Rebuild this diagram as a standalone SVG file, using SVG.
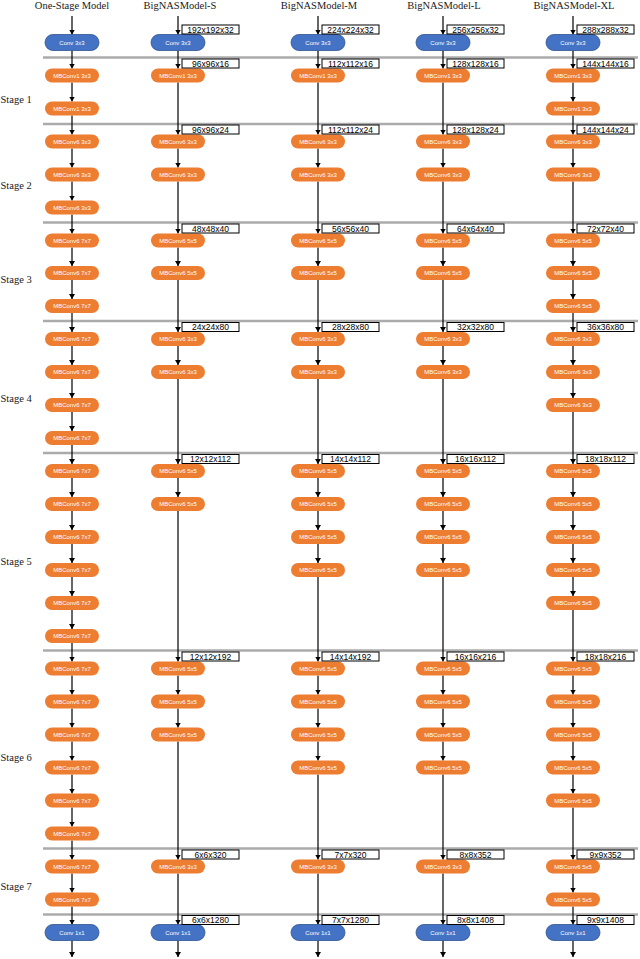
<svg xmlns="http://www.w3.org/2000/svg" width="640" height="959" viewBox="0 0 640 959">
<style>
.mb{fill:#ED7D31}
.cv{fill:#4472C4;stroke:#2F528F;stroke-width:0.8}
.nt{font-family:"Liberation Sans",Arial,sans-serif;font-size:6px;fill:#fff;text-anchor:middle}
.sep{stroke:#ABABAB;stroke-width:2.5}
.bx{fill:#fff;stroke:#000;stroke-width:1}
.bt{font-family:"Liberation Sans",Arial,sans-serif;font-size:8.5px;text-anchor:middle;fill:#000}
.hd{font-family:"Liberation Serif","Times New Roman",serif;font-size:10.5px;font-weight:normal;text-anchor:middle;fill:#1a1a1a}
.st{font-family:"Liberation Serif","Times New Roman",serif;font-size:10.5px;font-weight:normal;fill:#1a1a1a}
#connectors line{stroke:#000;stroke-width:1.2;marker-end:url(#ah)}
</style>
<defs>
<marker id="ah" markerUnits="userSpaceOnUse" markerWidth="6" markerHeight="6" refX="5" refY="3" orient="auto">
<path d="M0,0 L5,3 L0,6 z" fill="#000"/>
</marker>
</defs>
<rect width="640" height="959" fill="#fff"/>
<g id="headers">
<text class="hd" x="72" y="9">One-Stage Model</text>
<text class="hd" x="180" y="9">BigNASModel-S</text>
<text class="hd" x="319" y="9">BigNASModel-M</text>
<text class="hd" x="444" y="9">BigNASModel-L</text>
<text class="hd" x="574" y="9">BigNASModel-XL</text>
</g>
<g id="stages">
<text class="st" x="0.5" y="102.5">Stage 1</text>
<text class="st" x="0.5" y="188.5">Stage 2</text>
<text class="st" x="0.5" y="283">Stage 3</text>
<text class="st" x="0.5" y="401.5">Stage 4</text>
<text class="st" x="0.5" y="565">Stage 5</text>
<text class="st" x="0.5" y="761">Stage 6</text>
<text class="st" x="0.5" y="890">Stage 7</text>
</g>
<g id="separators">
<line class="sep" x1="43" y1="57.5" x2="638" y2="57.5"/>
<line class="sep" x1="43" y1="124" x2="638" y2="124"/>
<line class="sep" x1="43" y1="222.5" x2="638" y2="222.5"/>
<line class="sep" x1="43" y1="321" x2="638" y2="321"/>
<line class="sep" x1="43" y1="453" x2="638" y2="453"/>
<line class="sep" x1="43" y1="650.5" x2="638" y2="650.5"/>
<line class="sep" x1="43" y1="848.5" x2="638" y2="848.5"/>
<line class="sep" x1="43" y1="914.5" x2="638" y2="914.5"/>
</g>
<g id="connectors">
<line x1="72" y1="16" x2="72" y2="34.5"/>
<line x1="72" y1="50.5" x2="72" y2="68.5"/>
<line x1="72" y1="82.5" x2="72" y2="101.5"/>
<line x1="72" y1="115.5" x2="72" y2="134.5"/>
<line x1="72" y1="148.5" x2="72" y2="167.5"/>
<line x1="72" y1="181.5" x2="72" y2="200.5"/>
<line x1="72" y1="214.5" x2="72" y2="233.5"/>
<line x1="72" y1="247.5" x2="72" y2="266"/>
<line x1="72" y1="280" x2="72" y2="299"/>
<line x1="72" y1="313" x2="72" y2="332"/>
<line x1="72" y1="346" x2="72" y2="365"/>
<line x1="72" y1="379" x2="72" y2="398"/>
<line x1="72" y1="412" x2="72" y2="431"/>
<line x1="72" y1="445" x2="72" y2="464"/>
<line x1="72" y1="478" x2="72" y2="497"/>
<line x1="72" y1="511" x2="72" y2="530"/>
<line x1="72" y1="544" x2="72" y2="563"/>
<line x1="72" y1="577" x2="72" y2="596"/>
<line x1="72" y1="610" x2="72" y2="629"/>
<line x1="72" y1="643" x2="72" y2="661.5"/>
<line x1="72" y1="675.5" x2="72" y2="694.5"/>
<line x1="72" y1="708.5" x2="72" y2="727.5"/>
<line x1="72" y1="741.5" x2="72" y2="760.5"/>
<line x1="72" y1="774.5" x2="72" y2="793.5"/>
<line x1="72" y1="807.5" x2="72" y2="826.5"/>
<line x1="72" y1="840.5" x2="72" y2="859.5"/>
<line x1="72" y1="873.5" x2="72" y2="892.5"/>
<line x1="72" y1="906.5" x2="72" y2="924.5"/>
<line x1="72" y1="940.5" x2="72" y2="957"/>

<line x1="178" y1="16" x2="178" y2="34.5"/>
<line x1="178" y1="50.5" x2="178" y2="68.5"/>
<line x1="178" y1="82.5" x2="178" y2="134.5"/>
<line x1="178" y1="148.5" x2="178" y2="167.5"/>
<line x1="178" y1="181.5" x2="178" y2="233.5"/>
<line x1="178" y1="247.5" x2="178" y2="266"/>
<line x1="178" y1="280" x2="178" y2="332"/>
<line x1="178" y1="346" x2="178" y2="365"/>
<line x1="178" y1="379" x2="178" y2="464"/>
<line x1="178" y1="478" x2="178" y2="497"/>
<line x1="178" y1="511" x2="178" y2="661.5"/>
<line x1="178" y1="675.5" x2="178" y2="694.5"/>
<line x1="178" y1="708.5" x2="178" y2="727.5"/>
<line x1="178" y1="741.5" x2="178" y2="859.5"/>
<line x1="178" y1="873.5" x2="178" y2="924.5"/>
<line x1="178" y1="940.5" x2="178" y2="957"/>

<line x1="318" y1="16" x2="318" y2="34.5"/>
<line x1="318" y1="50.5" x2="318" y2="68.5"/>
<line x1="318" y1="82.5" x2="318" y2="134.5"/>
<line x1="318" y1="148.5" x2="318" y2="167.5"/>
<line x1="318" y1="181.5" x2="318" y2="233.5"/>
<line x1="318" y1="247.5" x2="318" y2="266"/>
<line x1="318" y1="280" x2="318" y2="332"/>
<line x1="318" y1="346" x2="318" y2="365"/>
<line x1="318" y1="379" x2="318" y2="464"/>
<line x1="318" y1="478" x2="318" y2="497"/>
<line x1="318" y1="511" x2="318" y2="530"/>
<line x1="318" y1="544" x2="318" y2="563"/>
<line x1="318" y1="577" x2="318" y2="661.5"/>
<line x1="318" y1="675.5" x2="318" y2="694.5"/>
<line x1="318" y1="708.5" x2="318" y2="727.5"/>
<line x1="318" y1="741.5" x2="318" y2="760.5"/>
<line x1="318" y1="774.5" x2="318" y2="859.5"/>
<line x1="318" y1="873.5" x2="318" y2="924.5"/>
<line x1="318" y1="940.5" x2="318" y2="957"/>

<line x1="443" y1="16" x2="443" y2="34.5"/>
<line x1="443" y1="50.5" x2="443" y2="68.5"/>
<line x1="443" y1="82.5" x2="443" y2="134.5"/>
<line x1="443" y1="148.5" x2="443" y2="167.5"/>
<line x1="443" y1="181.5" x2="443" y2="233.5"/>
<line x1="443" y1="247.5" x2="443" y2="266"/>
<line x1="443" y1="280" x2="443" y2="332"/>
<line x1="443" y1="346" x2="443" y2="365"/>
<line x1="443" y1="379" x2="443" y2="464"/>
<line x1="443" y1="478" x2="443" y2="497"/>
<line x1="443" y1="511" x2="443" y2="530"/>
<line x1="443" y1="544" x2="443" y2="563"/>
<line x1="443" y1="577" x2="443" y2="661.5"/>
<line x1="443" y1="675.5" x2="443" y2="694.5"/>
<line x1="443" y1="708.5" x2="443" y2="727.5"/>
<line x1="443" y1="741.5" x2="443" y2="760.5"/>
<line x1="443" y1="774.5" x2="443" y2="859.5"/>
<line x1="443" y1="873.5" x2="443" y2="924.5"/>
<line x1="443" y1="940.5" x2="443" y2="957"/>

<line x1="573" y1="16" x2="573" y2="34.5"/>
<line x1="573" y1="50.5" x2="573" y2="68.5"/>
<line x1="573" y1="82.5" x2="573" y2="101.5"/>
<line x1="573" y1="115.5" x2="573" y2="134.5"/>
<line x1="573" y1="148.5" x2="573" y2="167.5"/>
<line x1="573" y1="181.5" x2="573" y2="233.5"/>
<line x1="573" y1="247.5" x2="573" y2="266"/>
<line x1="573" y1="280" x2="573" y2="299"/>
<line x1="573" y1="313" x2="573" y2="332"/>
<line x1="573" y1="346" x2="573" y2="365"/>
<line x1="573" y1="379" x2="573" y2="398"/>
<line x1="573" y1="412" x2="573" y2="464"/>
<line x1="573" y1="478" x2="573" y2="497"/>
<line x1="573" y1="511" x2="573" y2="530"/>
<line x1="573" y1="544" x2="573" y2="563"/>
<line x1="573" y1="577" x2="573" y2="596"/>
<line x1="573" y1="610" x2="573" y2="661.5"/>
<line x1="573" y1="675.5" x2="573" y2="694.5"/>
<line x1="573" y1="708.5" x2="573" y2="727.5"/>
<line x1="573" y1="741.5" x2="573" y2="760.5"/>
<line x1="573" y1="774.5" x2="573" y2="793.5"/>
<line x1="573" y1="807.5" x2="573" y2="859.5"/>
<line x1="573" y1="873.5" x2="573" y2="892.5"/>
<line x1="573" y1="906.5" x2="573" y2="924.5"/>
<line x1="573" y1="940.5" x2="573" y2="957"/>
</g>

<g id="one-stage">
<g id="o0"><rect class="cv" x="45" y="34.5" width="54" height="16" rx="8"/><text class="nt" x="72" y="44.5">Conv 3x3</text></g>
<g id="o1"><rect class="mb" x="45" y="68.5" width="54" height="14" rx="7"/><text class="nt" x="72" y="77.5">MBConv1 3x3</text></g>
<g id="o2"><rect class="mb" x="45" y="101.5" width="54" height="14" rx="7"/><text class="nt" x="72" y="110.5">MBConv1 3x3</text></g>
<g id="o3"><rect class="mb" x="45" y="134.5" width="54" height="14" rx="7"/><text class="nt" x="72" y="143.5">MBConv6 3x3</text></g>
<g id="o4"><rect class="mb" x="45" y="167.5" width="54" height="14" rx="7"/><text class="nt" x="72" y="176.5">MBConv6 3x3</text></g>
<g id="o5"><rect class="mb" x="45" y="200.5" width="54" height="14" rx="7"/><text class="nt" x="72" y="209.5">MBConv6 3x3</text></g>
<g id="o6"><rect class="mb" x="45" y="233.5" width="54" height="14" rx="7"/><text class="nt" x="72" y="242.5">MBConv6 7x7</text></g>
<g id="o7"><rect class="mb" x="45" y="266" width="54" height="14" rx="7"/><text class="nt" x="72" y="275">MBConv6 7x7</text></g>
<g id="o8"><rect class="mb" x="45" y="299" width="54" height="14" rx="7"/><text class="nt" x="72" y="308">MBConv6 7x7</text></g>
<g id="o9"><rect class="mb" x="45" y="332" width="54" height="14" rx="7"/><text class="nt" x="72" y="341">MBConv6 7x7</text></g>
<g id="o10"><rect class="mb" x="45" y="365" width="54" height="14" rx="7"/><text class="nt" x="72" y="374">MBConv6 7x7</text></g>
<g id="o11"><rect class="mb" x="45" y="398" width="54" height="14" rx="7"/><text class="nt" x="72" y="407">MBConv6 7x7</text></g>
<g id="o12"><rect class="mb" x="45" y="431" width="54" height="14" rx="7"/><text class="nt" x="72" y="440">MBConv6 7x7</text></g>
<g id="o13"><rect class="mb" x="45" y="464" width="54" height="14" rx="7"/><text class="nt" x="72" y="473">MBConv6 7x7</text></g>
<g id="o14"><rect class="mb" x="45" y="497" width="54" height="14" rx="7"/><text class="nt" x="72" y="506">MBConv6 7x7</text></g>
<g id="o15"><rect class="mb" x="45" y="530" width="54" height="14" rx="7"/><text class="nt" x="72" y="539">MBConv6 7x7</text></g>
<g id="o16"><rect class="mb" x="45" y="563" width="54" height="14" rx="7"/><text class="nt" x="72" y="572">MBConv6 7x7</text></g>
<g id="o17"><rect class="mb" x="45" y="596" width="54" height="14" rx="7"/><text class="nt" x="72" y="605">MBConv6 7x7</text></g>
<g id="o18"><rect class="mb" x="45" y="629" width="54" height="14" rx="7"/><text class="nt" x="72" y="638">MBConv6 7x7</text></g>
<g id="o19"><rect class="mb" x="45" y="661.5" width="54" height="14" rx="7"/><text class="nt" x="72" y="670.5">MBConv6 7x7</text></g>
<g id="o20"><rect class="mb" x="45" y="694.5" width="54" height="14" rx="7"/><text class="nt" x="72" y="703.5">MBConv6 7x7</text></g>
<g id="o21"><rect class="mb" x="45" y="727.5" width="54" height="14" rx="7"/><text class="nt" x="72" y="736.5">MBConv6 7x7</text></g>
<g id="o22"><rect class="mb" x="45" y="760.5" width="54" height="14" rx="7"/><text class="nt" x="72" y="769.5">MBConv6 7x7</text></g>
<g id="o23"><rect class="mb" x="45" y="793.5" width="54" height="14" rx="7"/><text class="nt" x="72" y="802.5">MBConv6 7x7</text></g>
<g id="o24"><rect class="mb" x="45" y="826.5" width="54" height="14" rx="7"/><text class="nt" x="72" y="835.5">MBConv6 7x7</text></g>
<g id="o25"><rect class="mb" x="45" y="859.5" width="54" height="14" rx="7"/><text class="nt" x="72" y="868.5">MBConv6 7x7</text></g>
<g id="o26"><rect class="mb" x="45" y="892.5" width="54" height="14" rx="7"/><text class="nt" x="72" y="901.5">MBConv6 7x7</text></g>
<g id="o27"><rect class="cv" x="45" y="924.5" width="54" height="16" rx="8"/><text class="nt" x="72" y="934.5">Conv 1x1</text></g>
</g>

<g id="model-s">
<g id="s0"><rect class="cv" x="151" y="34.5" width="54" height="16" rx="8"/><text class="nt" x="178" y="44.5">Conv 3x3</text></g>
<g id="s1"><rect class="mb" x="151" y="68.5" width="54" height="14" rx="7"/><text class="nt" x="178" y="77.5">MBConv1 3x3</text></g>
<g id="s3"><rect class="mb" x="151" y="134.5" width="54" height="14" rx="7"/><text class="nt" x="178" y="143.5">MBConv6 3x3</text></g>
<g id="s4"><rect class="mb" x="151" y="167.5" width="54" height="14" rx="7"/><text class="nt" x="178" y="176.5">MBConv6 3x3</text></g>
<g id="s6"><rect class="mb" x="151" y="233.5" width="54" height="14" rx="7"/><text class="nt" x="178" y="242.5">MBConv6 5x5</text></g>
<g id="s7"><rect class="mb" x="151" y="266" width="54" height="14" rx="7"/><text class="nt" x="178" y="275">MBConv6 5x5</text></g>
<g id="s9"><rect class="mb" x="151" y="332" width="54" height="14" rx="7"/><text class="nt" x="178" y="341">MBConv6 3x3</text></g>
<g id="s10"><rect class="mb" x="151" y="365" width="54" height="14" rx="7"/><text class="nt" x="178" y="374">MBConv6 3x3</text></g>
<g id="s13"><rect class="mb" x="151" y="464" width="54" height="14" rx="7"/><text class="nt" x="178" y="473">MBConv6 5x5</text></g>
<g id="s14"><rect class="mb" x="151" y="497" width="54" height="14" rx="7"/><text class="nt" x="178" y="506">MBConv6 5x5</text></g>
<g id="s19"><rect class="mb" x="151" y="661.5" width="54" height="14" rx="7"/><text class="nt" x="178" y="670.5">MBConv6 5x5</text></g>
<g id="s20"><rect class="mb" x="151" y="694.5" width="54" height="14" rx="7"/><text class="nt" x="178" y="703.5">MBConv6 5x5</text></g>
<g id="s21"><rect class="mb" x="151" y="727.5" width="54" height="14" rx="7"/><text class="nt" x="178" y="736.5">MBConv6 5x5</text></g>
<g id="s25"><rect class="mb" x="151" y="859.5" width="54" height="14" rx="7"/><text class="nt" x="178" y="868.5">MBConv6 3x3</text></g>
<g id="s27"><rect class="cv" x="151" y="924.5" width="54" height="16" rx="8"/><text class="nt" x="178" y="934.5">Conv 1x1</text></g>
</g>

<g id="model-m">
<g id="m0"><rect class="cv" x="291" y="34.5" width="54" height="16" rx="8"/><text class="nt" x="318" y="44.5">Conv 3x3</text></g>
<g id="m1"><rect class="mb" x="291" y="68.5" width="54" height="14" rx="7"/><text class="nt" x="318" y="77.5">MBConv1 3x3</text></g>
<g id="m3"><rect class="mb" x="291" y="134.5" width="54" height="14" rx="7"/><text class="nt" x="318" y="143.5">MBConv6 3x3</text></g>
<g id="m4"><rect class="mb" x="291" y="167.5" width="54" height="14" rx="7"/><text class="nt" x="318" y="176.5">MBConv6 3x3</text></g>
<g id="m6"><rect class="mb" x="291" y="233.5" width="54" height="14" rx="7"/><text class="nt" x="318" y="242.5">MBConv6 5x5</text></g>
<g id="m7"><rect class="mb" x="291" y="266" width="54" height="14" rx="7"/><text class="nt" x="318" y="275">MBConv6 5x5</text></g>
<g id="m9"><rect class="mb" x="291" y="332" width="54" height="14" rx="7"/><text class="nt" x="318" y="341">MBConv6 3x3</text></g>
<g id="m10"><rect class="mb" x="291" y="365" width="54" height="14" rx="7"/><text class="nt" x="318" y="374">MBConv6 3x3</text></g>
<g id="m13"><rect class="mb" x="291" y="464" width="54" height="14" rx="7"/><text class="nt" x="318" y="473">MBConv6 5x5</text></g>
<g id="m14"><rect class="mb" x="291" y="497" width="54" height="14" rx="7"/><text class="nt" x="318" y="506">MBConv6 5x5</text></g>
<g id="m15"><rect class="mb" x="291" y="530" width="54" height="14" rx="7"/><text class="nt" x="318" y="539">MBConv6 5x5</text></g>
<g id="m16"><rect class="mb" x="291" y="563" width="54" height="14" rx="7"/><text class="nt" x="318" y="572">MBConv6 5x5</text></g>
<g id="m19"><rect class="mb" x="291" y="661.5" width="54" height="14" rx="7"/><text class="nt" x="318" y="670.5">MBConv6 5x5</text></g>
<g id="m20"><rect class="mb" x="291" y="694.5" width="54" height="14" rx="7"/><text class="nt" x="318" y="703.5">MBConv6 5x5</text></g>
<g id="m21"><rect class="mb" x="291" y="727.5" width="54" height="14" rx="7"/><text class="nt" x="318" y="736.5">MBConv6 5x5</text></g>
<g id="m22"><rect class="mb" x="291" y="760.5" width="54" height="14" rx="7"/><text class="nt" x="318" y="769.5">MBConv6 5x5</text></g>
<g id="m25"><rect class="mb" x="291" y="859.5" width="54" height="14" rx="7"/><text class="nt" x="318" y="868.5">MBConv6 3x3</text></g>
<g id="m27"><rect class="cv" x="291" y="924.5" width="54" height="16" rx="8"/><text class="nt" x="318" y="934.5">Conv 1x1</text></g>
</g>

<g id="model-l">
<g id="l0"><rect class="cv" x="416" y="34.5" width="54" height="16" rx="8"/><text class="nt" x="443" y="44.5">Conv 3x3</text></g>
<g id="l1"><rect class="mb" x="416" y="68.5" width="54" height="14" rx="7"/><text class="nt" x="443" y="77.5">MBConv1 3x3</text></g>
<g id="l3"><rect class="mb" x="416" y="134.5" width="54" height="14" rx="7"/><text class="nt" x="443" y="143.5">MBConv6 3x3</text></g>
<g id="l4"><rect class="mb" x="416" y="167.5" width="54" height="14" rx="7"/><text class="nt" x="443" y="176.5">MBConv6 3x3</text></g>
<g id="l6"><rect class="mb" x="416" y="233.5" width="54" height="14" rx="7"/><text class="nt" x="443" y="242.5">MBConv6 5x5</text></g>
<g id="l7"><rect class="mb" x="416" y="266" width="54" height="14" rx="7"/><text class="nt" x="443" y="275">MBConv6 5x5</text></g>
<g id="l9"><rect class="mb" x="416" y="332" width="54" height="14" rx="7"/><text class="nt" x="443" y="341">MBConv6 3x3</text></g>
<g id="l10"><rect class="mb" x="416" y="365" width="54" height="14" rx="7"/><text class="nt" x="443" y="374">MBConv6 3x3</text></g>
<g id="l13"><rect class="mb" x="416" y="464" width="54" height="14" rx="7"/><text class="nt" x="443" y="473">MBConv6 5x5</text></g>
<g id="l14"><rect class="mb" x="416" y="497" width="54" height="14" rx="7"/><text class="nt" x="443" y="506">MBConv6 5x5</text></g>
<g id="l15"><rect class="mb" x="416" y="530" width="54" height="14" rx="7"/><text class="nt" x="443" y="539">MBConv6 5x5</text></g>
<g id="l16"><rect class="mb" x="416" y="563" width="54" height="14" rx="7"/><text class="nt" x="443" y="572">MBConv6 5x5</text></g>
<g id="l19"><rect class="mb" x="416" y="661.5" width="54" height="14" rx="7"/><text class="nt" x="443" y="670.5">MBConv6 5x5</text></g>
<g id="l20"><rect class="mb" x="416" y="694.5" width="54" height="14" rx="7"/><text class="nt" x="443" y="703.5">MBConv6 5x5</text></g>
<g id="l21"><rect class="mb" x="416" y="727.5" width="54" height="14" rx="7"/><text class="nt" x="443" y="736.5">MBConv6 5x5</text></g>
<g id="l22"><rect class="mb" x="416" y="760.5" width="54" height="14" rx="7"/><text class="nt" x="443" y="769.5">MBConv6 5x5</text></g>
<g id="l25"><rect class="mb" x="416" y="859.5" width="54" height="14" rx="7"/><text class="nt" x="443" y="868.5">MBConv6 3x3</text></g>
<g id="l27"><rect class="cv" x="416" y="924.5" width="54" height="16" rx="8"/><text class="nt" x="443" y="934.5">Conv 1x1</text></g>
</g>

<g id="model-xl">
<g id="x0"><rect class="cv" x="546" y="34.5" width="54" height="16" rx="8"/><text class="nt" x="573" y="44.5">Conv 3x3</text></g>
<g id="x1"><rect class="mb" x="546" y="68.5" width="54" height="14" rx="7"/><text class="nt" x="573" y="77.5">MBConv1 3x3</text></g>
<g id="x2"><rect class="mb" x="546" y="101.5" width="54" height="14" rx="7"/><text class="nt" x="573" y="110.5">MBConv1 3x3</text></g>
<g id="x3"><rect class="mb" x="546" y="134.5" width="54" height="14" rx="7"/><text class="nt" x="573" y="143.5">MBConv6 3x3</text></g>
<g id="x4"><rect class="mb" x="546" y="167.5" width="54" height="14" rx="7"/><text class="nt" x="573" y="176.5">MBConv6 3x3</text></g>
<g id="x6"><rect class="mb" x="546" y="233.5" width="54" height="14" rx="7"/><text class="nt" x="573" y="242.5">MBConv6 5x5</text></g>
<g id="x7"><rect class="mb" x="546" y="266" width="54" height="14" rx="7"/><text class="nt" x="573" y="275">MBConv6 5x5</text></g>
<g id="x8"><rect class="mb" x="546" y="299" width="54" height="14" rx="7"/><text class="nt" x="573" y="308">MBConv6 5x5</text></g>
<g id="x9"><rect class="mb" x="546" y="332" width="54" height="14" rx="7"/><text class="nt" x="573" y="341">MBConv6 3x3</text></g>
<g id="x10"><rect class="mb" x="546" y="365" width="54" height="14" rx="7"/><text class="nt" x="573" y="374">MBConv6 3x3</text></g>
<g id="x11"><rect class="mb" x="546" y="398" width="54" height="14" rx="7"/><text class="nt" x="573" y="407">MBConv6 3x3</text></g>
<g id="x13"><rect class="mb" x="546" y="464" width="54" height="14" rx="7"/><text class="nt" x="573" y="473">MBConv6 5x5</text></g>
<g id="x14"><rect class="mb" x="546" y="497" width="54" height="14" rx="7"/><text class="nt" x="573" y="506">MBConv6 5x5</text></g>
<g id="x15"><rect class="mb" x="546" y="530" width="54" height="14" rx="7"/><text class="nt" x="573" y="539">MBConv6 5x5</text></g>
<g id="x16"><rect class="mb" x="546" y="563" width="54" height="14" rx="7"/><text class="nt" x="573" y="572">MBConv6 5x5</text></g>
<g id="x17"><rect class="mb" x="546" y="596" width="54" height="14" rx="7"/><text class="nt" x="573" y="605">MBConv6 5x5</text></g>
<g id="x19"><rect class="mb" x="546" y="661.5" width="54" height="14" rx="7"/><text class="nt" x="573" y="670.5">MBConv6 5x5</text></g>
<g id="x20"><rect class="mb" x="546" y="694.5" width="54" height="14" rx="7"/><text class="nt" x="573" y="703.5">MBConv6 5x5</text></g>
<g id="x21"><rect class="mb" x="546" y="727.5" width="54" height="14" rx="7"/><text class="nt" x="573" y="736.5">MBConv6 5x5</text></g>
<g id="x22"><rect class="mb" x="546" y="760.5" width="54" height="14" rx="7"/><text class="nt" x="573" y="769.5">MBConv6 5x5</text></g>
<g id="x23"><rect class="mb" x="546" y="793.5" width="54" height="14" rx="7"/><text class="nt" x="573" y="802.5">MBConv6 5x5</text></g>
<g id="x25"><rect class="mb" x="546" y="859.5" width="54" height="14" rx="7"/><text class="nt" x="573" y="868.5">MBConv6 5x5</text></g>
<g id="x26"><rect class="mb" x="546" y="892.5" width="54" height="14" rx="7"/><text class="nt" x="573" y="901.5">MBConv6 5x5</text></g>
<g id="x27"><rect class="cv" x="546" y="924.5" width="54" height="16" rx="8"/><text class="nt" x="573" y="934.5">Conv 1x1</text></g>
</g>

<g id="shape-labels">
<g id="lab-s">
<rect class="bx" x="182" y="25" width="57" height="9"/><text class="bt" x="210.5" y="32.5">192x192x32</text>
<rect class="bx" x="182" y="59" width="57" height="9"/><text class="bt" x="210.5" y="66.5">96x96x16</text>
<rect class="bx" x="182" y="125" width="57" height="9"/><text class="bt" x="210.5" y="132.5">96x96x24</text>
<rect class="bx" x="182" y="224" width="57" height="9"/><text class="bt" x="210.5" y="231.5">48x48x40</text>
<rect class="bx" x="182" y="322.5" width="57" height="9"/><text class="bt" x="210.5" y="330">24x24x80</text>
<rect class="bx" x="182" y="454.5" width="57" height="9"/><text class="bt" x="210.5" y="462">12x12x112</text>
<rect class="bx" x="182" y="652" width="57" height="9"/><text class="bt" x="210.5" y="659.5">12x12x192</text>
<rect class="bx" x="182" y="850" width="57" height="9"/><text class="bt" x="210.5" y="857.5">6x6x320</text>
<rect class="bx" x="182" y="915.5" width="57" height="9"/><text class="bt" x="210.5" y="923">6x6x1280</text>
</g>
<g id="lab-m">
<rect class="bx" x="322" y="25" width="57" height="9"/><text class="bt" x="350.5" y="32.5">224x224x32</text>
<rect class="bx" x="322" y="59" width="57" height="9"/><text class="bt" x="350.5" y="66.5">112x112x16</text>
<rect class="bx" x="322" y="125" width="57" height="9"/><text class="bt" x="350.5" y="132.5">112x112x24</text>
<rect class="bx" x="322" y="224" width="57" height="9"/><text class="bt" x="350.5" y="231.5">56x56x40</text>
<rect class="bx" x="322" y="322.5" width="57" height="9"/><text class="bt" x="350.5" y="330">28x28x80</text>
<rect class="bx" x="322" y="454.5" width="57" height="9"/><text class="bt" x="350.5" y="462">14x14x112</text>
<rect class="bx" x="322" y="652" width="57" height="9"/><text class="bt" x="350.5" y="659.5">14x14x192</text>
<rect class="bx" x="322" y="850" width="57" height="9"/><text class="bt" x="350.5" y="857.5">7x7x320</text>
<rect class="bx" x="322" y="915.5" width="57" height="9"/><text class="bt" x="350.5" y="923">7x7x1280</text>
</g>
<g id="lab-l">
<rect class="bx" x="447" y="25" width="57" height="9"/><text class="bt" x="475.5" y="32.5">256x256x32</text>
<rect class="bx" x="447" y="59" width="57" height="9"/><text class="bt" x="475.5" y="66.5">128x128x16</text>
<rect class="bx" x="447" y="125" width="57" height="9"/><text class="bt" x="475.5" y="132.5">128x128x24</text>
<rect class="bx" x="447" y="224" width="57" height="9"/><text class="bt" x="475.5" y="231.5">64x64x40</text>
<rect class="bx" x="447" y="322.5" width="57" height="9"/><text class="bt" x="475.5" y="330">32x32x80</text>
<rect class="bx" x="447" y="454.5" width="57" height="9"/><text class="bt" x="475.5" y="462">16x16x112</text>
<rect class="bx" x="447" y="652" width="57" height="9"/><text class="bt" x="475.5" y="659.5">16x16x216</text>
<rect class="bx" x="447" y="850" width="57" height="9"/><text class="bt" x="475.5" y="857.5">8x8x352</text>
<rect class="bx" x="447" y="915.5" width="57" height="9"/><text class="bt" x="475.5" y="923">8x8x1408</text>
</g>
<g id="lab-xl">
<rect class="bx" x="577" y="25" width="57" height="9"/><text class="bt" x="605.5" y="32.5">288x288x32</text>
<rect class="bx" x="577" y="59" width="57" height="9"/><text class="bt" x="605.5" y="66.5">144x144x16</text>
<rect class="bx" x="577" y="125" width="57" height="9"/><text class="bt" x="605.5" y="132.5">144x144x24</text>
<rect class="bx" x="577" y="224" width="57" height="9"/><text class="bt" x="605.5" y="231.5">72x72x40</text>
<rect class="bx" x="577" y="322.5" width="57" height="9"/><text class="bt" x="605.5" y="330">36x36x80</text>
<rect class="bx" x="577" y="454.5" width="57" height="9"/><text class="bt" x="605.5" y="462">18x18x112</text>
<rect class="bx" x="577" y="652" width="57" height="9"/><text class="bt" x="605.5" y="659.5">18x18x216</text>
<rect class="bx" x="577" y="850" width="57" height="9"/><text class="bt" x="605.5" y="857.5">9x9x352</text>
<rect class="bx" x="577" y="915.5" width="57" height="9"/><text class="bt" x="605.5" y="923">9x9x1408</text>
</g>
</g>
</svg>
